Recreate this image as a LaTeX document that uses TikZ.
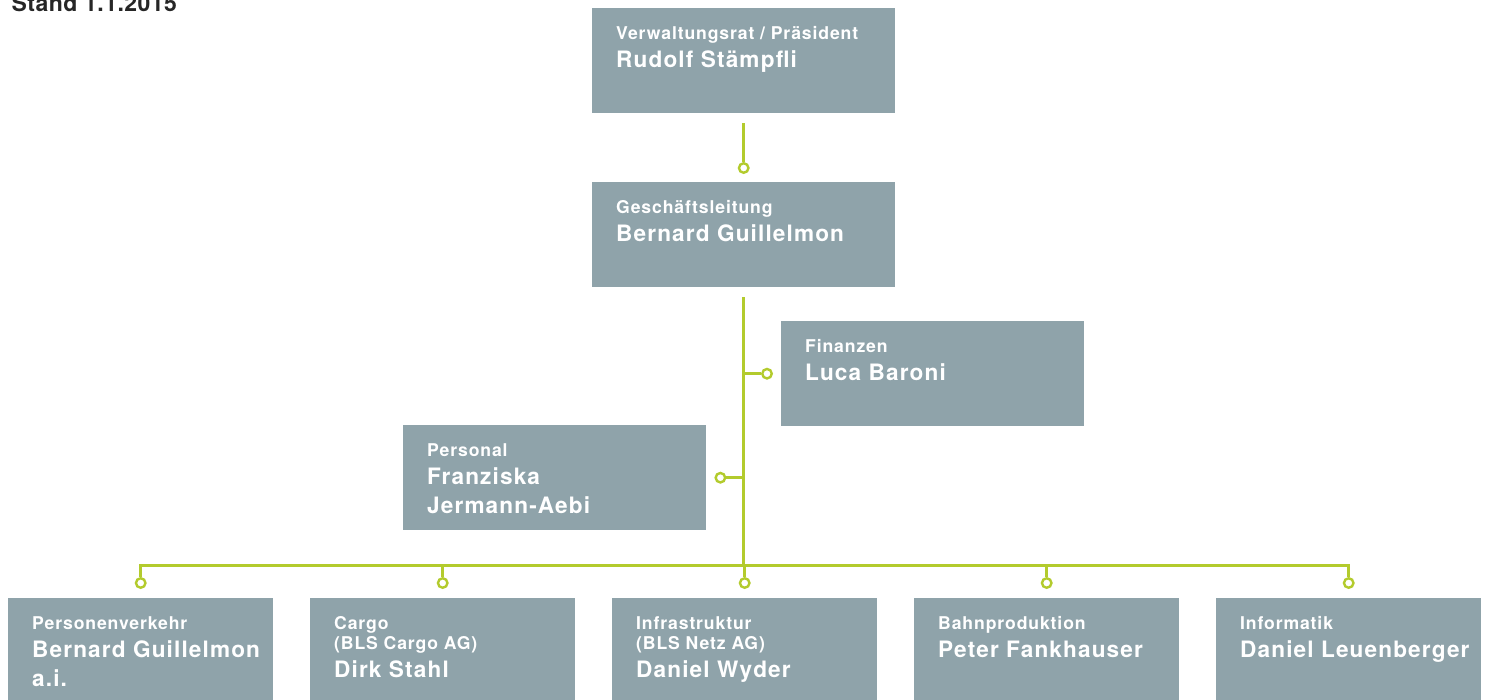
\documentclass[tikz,border=0pt]{standalone}
\usepackage{fontspec}
\usetikzlibrary{positioning,calc}
\newfontfamily\lblfont{TeX Gyre Heros}[LetterSpace=5]
\newfontfamily\namefont{TeX Gyre Heros}[LetterSpace=5]
\newfontfamily\standfont{TeX Gyre Heros}[LetterSpace=2]
\definecolor{blsgrey}{HTML}{8FA3AA}
\definecolor{blslime}{HTML}{B3CB2D}
\tikzset{
  unit/.style={fill=blsgrey,text=white,inner sep=0pt,anchor=north west},
  link/.style={blslime,line width=2.6pt},
  knob/.style={circle,draw=blslime,fill=white,line width=2.4pt,minimum size=9.5pt,inner sep=0pt},
}
% #1 box width, #2 function, #3 person
\newcommand{\unittext}[3]{%
  \parbox[c][105pt][t]{#1}{\raggedright\leftskip=24pt
    \lblfont\bfseries\fontsize{17.6}{20}\selectfont\rule{0pt}{31pt}#2\par
    \namefont\bfseries\fontsize{22.6}{28.5}\selectfont #3\par}}

\begin{document}
\begin{tikzpicture}[x=1pt,y=-1pt]
\useasboundingbox (0,0) rectangle (1488,699);
\node[anchor=base west,text=black!85,font=\standfont\bfseries\fontsize{23}{28}\selectfont] (stand) at (8,11) {Stand 1.1.2015};
% board and management
\node[unit] (vr) at (592,8) {\unittext{303pt}{Verwaltungsrat / Präsident}{Rudolf Stämpfli}};
\node[unit] (gl) at (592,182) {\unittext{303pt}{Geschäftsleitung}{Bernard Guillelmon}};
\node[unit] (fin) at (781,321) {\unittext{303pt}{Finanzen}{Luca Baroni}};
\node[unit] (pers) at (403,425) {\unittext{303pt}{Personal}{Franziska\\Jermann-Aebi}};
% divisions
\foreach \i/\id/\lbl/\who in {0/pv/Personenverkehr/{Bernard Guillelmon\\a.i.},
    1/cargo/{Cargo\\(BLS Cargo AG)}/Dirk Stahl,
    2/infra/{Infrastruktur\\(BLS Netz AG)}/Daniel Wyder,
    3/bp/Bahnproduktion/Peter Fankhauser,
    4/it/Informatik/Daniel Leuenberger}
  \node[unit] (\id) at (8+302*\i,598) {\unittext{265pt}{\lbl}{\who}};
% connectors
\node[knob] (kgl) at ([yshift=14pt]gl.north) {};
\draw[link] ([yshift=-10pt]vr.south) -- (kgl);
\coordinate (bus) at ([yshift=-278pt]gl.south);
\draw[link] ([yshift=-10pt]gl.south) -- (bus);
\node[knob] (kfin) at ([xshift=-14pt]fin.west) {};
\draw[link] (kfin) -- (kfin -| bus);
\node[knob] (kpers) at ([xshift=14pt]pers.east) {};
\draw[link] (kpers) -- (kpers -| bus);
\foreach \id in {pv,cargo,infra,bp,it}
  \node[knob] (k\id) at ([yshift=15pt]\id.north) {};
\draw[link] (kpv) |- (bus) -| (kit);
\foreach \id in {cargo,infra,bp}
  \draw[link] (k\id) -- (k\id |- bus);
\end{tikzpicture}
\end{document}
